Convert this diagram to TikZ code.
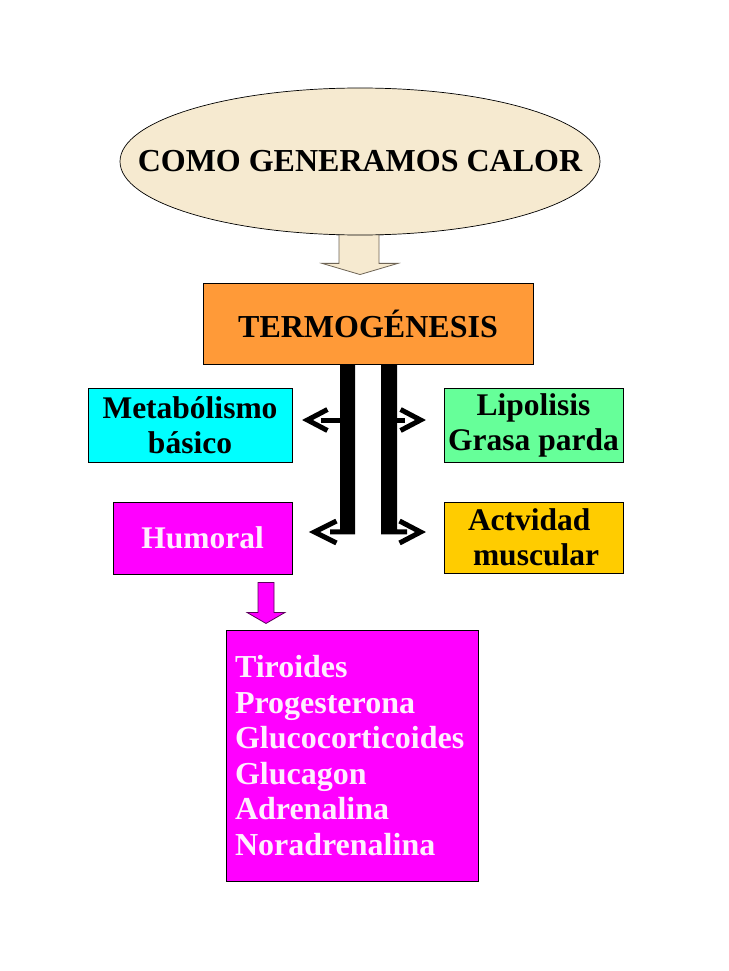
\documentclass[tikz,border=0pt]{standalone}
\usepackage{fontspec}
\setmainfont{Liberation Serif}
\usetikzlibrary{shapes.geometric,calc}
\definecolor{beige}{RGB}{246,234,208}
\definecolor{beigeline}{RGB}{110,100,85}
\definecolor{orangebox}{RGB}{255,154,56}
\definecolor{cyanbox}{RGB}{0,255,255}
\definecolor{greenbox}{RGB}{102,255,153}
\definecolor{magbox}{RGB}{255,0,255}
\definecolor{goldbox}{RGB}{255,204,0}
\definecolor{palepink}{RGB}{255,238,255}
\definecolor{magline}{RGB}{90,0,90}
\tikzset{
  bigtext/.style={font=\fontsize{31.5}{35}\selectfont\bfseries},
  box/.style={draw=black, line width=0.9pt, rectangle, bigtext, align=center, inner sep=0pt},
  blockarrow/.style={line width=0.8pt, line join=miter},
  chevron/.style={line width=5pt, line join=miter, line cap=butt},
  dashline/.style={line width=4.5pt},
  oval/.style={ellipse, draw=black, line width=0.7pt, fill=beige, minimum width=480pt, minimum height=147pt, inner sep=0pt},
}
\begin{document}
\begin{tikzpicture}[x=1pt,y=-1pt]
\useasboundingbox[fill=white] (0,0) rectangle (728,971);

% nodes
\node[oval, font=\fontsize{32}{35}\selectfont\bfseries] (calor) at (360,161.5) {\makebox[0pt]{COMO GENERAMOS CALOR}};
\node[box, fill=orangebox, minimum width=330pt, minimum height=81pt, font=\fontsize{32}{35}\selectfont\bfseries] (termo) at (368,323.5) {TERMOGÉNESIS};
\node[box, fill=cyanbox, minimum width=204pt, minimum height=74pt] (meta) at (190,425) {Metabólismo\\básico};
\node[box, fill=greenbox, minimum width=179pt, minimum height=74pt] (lipo) at (533.5,425) {Lipolisis\\Grasa parda};
\node[box, fill=magbox, text=palepink, minimum width=179pt, minimum height=72pt] (humo) at (202.5,538) {Humoral};
\node[box, fill=goldbox, minimum width=179pt, minimum height=71pt, text width=179pt, align=left] (act) at (533.5,537.5) {\hspace*{24pt}Actvidad\\\hspace*{29pt}muscular};
\node[box, fill=magbox, text=palepink, minimum width=252pt, minimum height=251pt, text width=234pt, align=left, font=\fontsize{32}{35.6}\selectfont\bfseries] (list) at (352,755.5) {Tiroides\\Progesterona\\Glucocorticoides\\Glucagon\\Adrenalina\\Noradrenalina};

% block arrow calor -> termo
\path (calor.south) coordinate (cs) (termo.north) coordinate (tn);
\draw[blockarrow, draw=beigeline, fill=beige]
  ($(cs)+(-21,-4)$) -- ($(cs)+(19,-4)$) -- ($(cs)+(19,28)$) -- ($(cs)+(38,28)$)
  -- ($(tn)+(-8,-8)$) -- ($(cs)+(-38,28)$) -- ($(cs)+(-21,28)$) -- cycle;
% redraw bottom part of the ellipse outline over the arrow top
\begin{scope}
\clip ($(cs)+(-30,-12)$) rectangle ($(cs)+(30,0.1)$);
\node[oval] at (calor.center) {};
\end{scope}

% black bars (left and right) from TERMOGENESIS
\path (termo.south) coordinate (ts);
\fill[black] ($(ts)+(-28,0)$) -- ($(ts)+(-13,0)$) -- ($(ts)+(-13,170)$) -- ($(ts)+(-38,170)$) -- ($(ts)+(-38,165)$) -- ($(ts)+(-28,165)$) -- cycle;
\fill[black] ($(ts)+(13,0)$) -- ($(ts)+(29,0)$) -- ($(ts)+(29,165)$) -- ($(ts)+(39,165)$) -- ($(ts)+(39,170)$) -- ($(ts)+(13,170)$) -- cycle;

% dashes on upper level
\draw[dashline] ($(ts)+(-47,56)$) -- ($(ts)+(-28,56)$);
\draw[dashline] ($(ts)+(28,56)$) -- ($(ts)+(37,56)$);

% chevrons
\coordinate (cl1) at ($(meta.east)+(15,-5)$);
\draw[chevron] ($(cl1)+(20,-10.5)$) -- (cl1) -- ($(cl1)+(20,10.5)$);
\coordinate (cr1) at ($(lipo.west)+(-23,-5)$);
\draw[chevron] ($(cr1)+(-20,-10.5)$) -- (cr1) -- ($(cr1)+(-20,10.5)$);
\coordinate (cl2) at ($(humo.east)+(22,-6)$);
\draw[chevron] ($(cl2)+(22,-11)$) -- (cl2) -- ($(cl2)+(22,11)$);
\coordinate (cr2) at ($(act.west)+(-23,-5.5)$);
\draw[chevron] ($(cr2)+(-21,-11)$) -- (cr2) -- ($(cr2)+(-21,11)$);

% magenta block arrow humoral -> list
\path (humo.south) coordinate (hs) (list.north) coordinate (ln);
\coordinate (ha) at ($(hs)+(63.5,0)$);
\draw[blockarrow, draw=magline, fill=magbox]
  ($(ha)+(-8,8)$) -- ($(ha)+(8,8)$) -- ($(ha)+(8,38)$) -- ($(ha)+(19,38)$)
  -- ($(ha)+(0,49)$) -- ($(ha)+(-19,38)$) -- ($(ha)+(-8,38)$) -- cycle;
\end{tikzpicture}
\end{document}
